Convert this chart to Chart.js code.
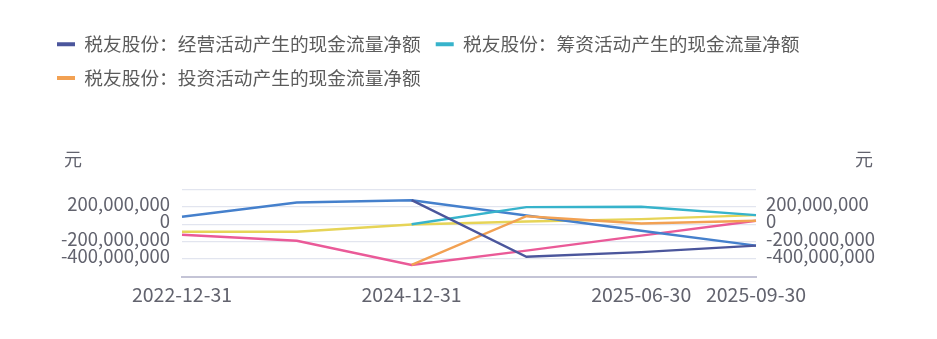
<!DOCTYPE html>
<html>
<head>
<meta charset="utf-8">
<script src="https://cdn.jsdelivr.net/npm/chart.js@4/dist/chart.umd.min.js"></script>
<style>
html,body{margin:0;padding:0;background:#fff;}
#wrap{width:937px;height:339px;position:relative;}
</style>
</head>
<body>
<div id="wrap"><canvas id="c" width="937" height="339"></canvas></div>
<script>
// ---- data ----
const categories = ['2022-12-31', '2023-12-31', '2024-12-31', '2025-03-31', '2025-06-30', '2025-09-30'];
const shownXLabels = ['2022-12-31', '2024-12-31', '2025-06-30', '2025-09-30'];
const seriesNames = ['税友股份：经营活动产生的现金流量净额', '税友股份：筹资活动产生的现金流量净额', '税友股份：投资活动产生的现金流量净额'];
const operating = [null, null, 276000000, -373000000, -320000000, -246000000];
const financing = [null, null, 0, 196000000, 200000000, 105000000];
const investing = [null, null, -467000000, 92000000, 9000000, 40000000];
const extraBlue = [86000000, 249000000, 276000000, 100000000, -74000000, -246000000];
const extraPink = [-120000000, -189000000, -467000000, -303000000, -131000000, 40000000];
const extraYellow = [-86000000, -86000000, -3000000, 32000000, 59000000, 105000000];
const yShownTicks = [200000000, 0, -200000000, -400000000];
const unitLabel = '元';

const FONT = '"Noto Sans CJK SC", "Noto Sans", sans-serif';
const colors = ['#4b569c', '#37b3cb', '#f2a153', '#4580cc', '#ea5a98', '#e6d457'];
const TEXT = '#62636e';

const yTick = v => yShownTicks.includes(v) ? v.toLocaleString('en-US') : '';

const unitPlugin = {
  id: 'unitPlugin',
  beforeInit(chart) {
    const spacer = {
      id: 'spacer', position: 'top', weight: 500, fullSize: true, options: {},
      top: 0, left: 0, right: 0, bottom: 0, width: 0, height: 0,
      isHorizontal() { return true; },
      update(maxWidth) { this.width = maxWidth; this.height = 92; this.left = 0; this.right = maxWidth; return this.height; },
      draw() {}
    };
    Chart.layouts.addBox(chart, spacer);
  },
  afterDraw(chart) {
    const ctx = chart.ctx, a = chart.chartArea;
    ctx.save();
    ctx.font = '18px ' + FONT;
    ctx.fillStyle = TEXT;
    ctx.textAlign = 'center';
    ctx.textBaseline = 'middle';
    ctx.fillText(unitLabel, a.left - 109, a.top - 30);
    ctx.fillText(unitLabel, a.right + 108, a.top - 30);
    ctx.restore();
  }
};

const mk = (label, data, color) => ({
  label, data, borderColor: color, backgroundColor: color,
  borderWidth: 2.4, pointRadius: 0, pointHoverRadius: 0, tension: 0, spanGaps: false, fill: false
});

new Chart(document.getElementById('c'), {
  type: 'line',
  data: {
    labels: categories,
    datasets: [
      mk(seriesNames[0], operating, colors[0]),
      mk(seriesNames[1], financing, colors[1]),
      mk(seriesNames[2], investing, colors[2]),
      mk('extra1', extraBlue, colors[3]),
      mk('extra2', extraPink, colors[4]),
      mk('extra3', extraYellow, colors[5])
    ]
  },
  options: {
    responsive: false,
    animation: false,
    layout: { padding: { left: 42, right: 0, top: 20, bottom: 0 } },
    plugins: {
      tooltip: { enabled: false },
      legend: {
        position: 'top',
        align: 'start',
        labels: {
          boxWidth: 18,
          boxHeight: 4,
          padding: 15,
          color: '#5c5c5c',
          font: { family: FONT, size: 18.7 },
          generateLabels(chart) {
            return Chart.defaults.plugins.legend.labels.generateLabels(chart)
              .filter(l => l.datasetIndex < 3)
              .map(l => Object.assign({}, l, { fillStyle: l.strokeStyle, lineWidth: 0 }));
          }
        }
      }
    },
    scales: {
      x: {
        type: 'category',
        offset: false,
        grid: { display: false, drawTicks: false },
        border: { display: true, color: '#c4c4d6', width: 2 },
        ticks: {
          autoSkip: false, maxRotation: 0, padding: 6,
          color: TEXT, font: { family: FONT, size: 19.5 },
          callback(v) { const l = categories[v]; return shownXLabels.includes(l) ? l : ''; }
        },
        afterFit(s) { s.height = 62.5; }
      },
      y: {
        position: 'left',
        min: -600000000, max: 400000000,
        grid: { color: '#e2e5ef', drawTicks: false, lineWidth: 1.3 },
        border: { display: false },
        ticks: {
          stepSize: 200000000, padding: 12, labelOffset: -3, autoSkip: false,
          color: TEXT, font: { family: FONT, size: 18.5 },
          callback: yTick
        },
        afterFit(s) { s.width = 140; }
      },
      y2: {
        position: 'right',
        min: -600000000, max: 400000000,
        grid: { display: false, drawTicks: false },
        border: { display: false },
        ticks: {
          stepSize: 200000000, padding: 10, labelOffset: -3, autoSkip: false,
          color: TEXT, font: { family: FONT, size: 18.5 },
          callback: yTick
        },
        afterFit(s) { s.width = 181; }
      }
    }
  },
  plugins: [unitPlugin]
});
</script>
</body>
</html>
